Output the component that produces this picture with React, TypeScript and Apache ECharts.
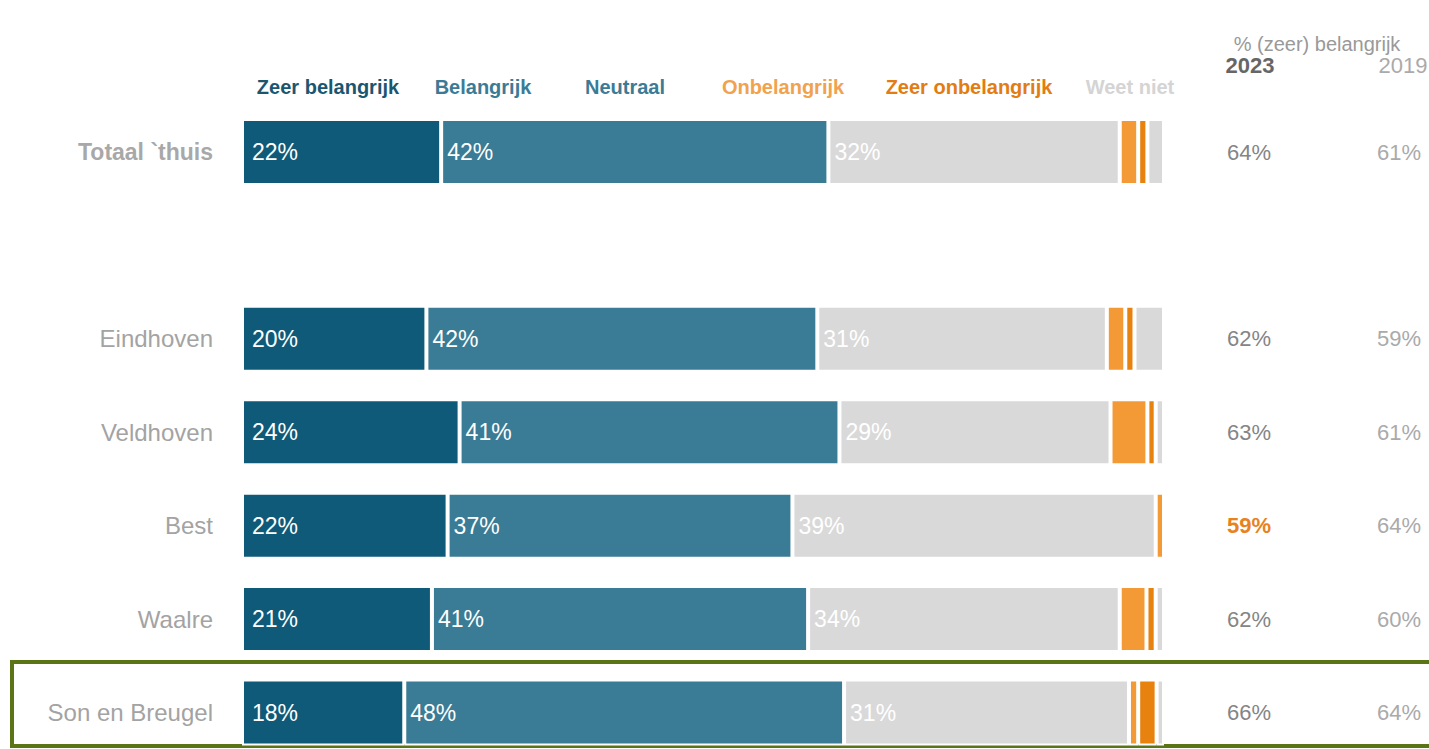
import React, { useEffect, useRef } from "react";
import * as echarts from "echarts";

const CATEGORIES = ["Totaal `thuis", "", "Eindhoven", "Veldhoven", "Best", "Waalre", "Son en Breugel"];
const SERIES_NAMES = ["Zeer belangrijk", "Belangrijk", "Neutraal", "Onbelangrijk", "Zeer onbelangrijk", "Weet niet"];
const ZEER_BELANGRIJK = [21.6, null, 20.0, 23.6, 22.3, 20.6, 17.6];
const BELANGRIJK = [42.0, null, 42.4, 41.2, 37.4, 40.8, 47.7];
const NEUTRAAL = [31.6, null, 31.4, 29.4, 39.4, 33.8, 30.9];
const ONBELANGRIJK = [2.0, null, 2.0, 4.0, 0.9, 2.9, 1.0];
const ZEER_ONBELANGRIJK = [1.0, null, 1.0, 0.9, null, 1.0, 2.0];
const WEET_NIET = [1.8, null, 3.2, 0.9, null, 0.9, 0.8];
const PCT_2023 = [64, null, 62, 63, 59, 62, 66];
const PCT_2019 = [61, null, 59, 61, 64, 60, 64];
const SIGNIFICANT_LOWER = [false, false, false, false, true, false, false];
const HEADER_TITLE = "% (zeer) belangrijk";
const HEADER_YEARS = ["2023", "2019"];

const SERIES_VALUES = [ZEER_BELANGRIJK, BELANGRIJK, NEUTRAAL, ONBELANGRIJK, ZEER_ONBELANGRIJK, WEET_NIET];
const BAR_COLORS = ["#0f5a78", "#3a7b95", "#d9d9d9", "#f39a37", "#e8820f", "#d9d9d9"];
const LEGEND_COLORS = ["#1b5670", "#3c7b96", "#3c7b96", "#f0a24e", "#e27c14", "#d4d4d4"];
const LEGEND_CENTERS = [328, 483, 625, 783, 969, 1130];

const FONT = "Arial, 'Liberation Sans', Helvetica, sans-serif";

export default function App() {
  const ref = useRef<HTMLDivElement>(null);

  useEffect(() => {
    if (!ref.current) return;
    const chart = echarts.init(ref.current, null, { renderer: "svg" });

    const series = SERIES_NAMES.map((name, i) => ({
      name,
      type: "bar",
      stack: "total",
      barWidth: 66,
      data: SERIES_VALUES[i],
      itemStyle: { color: BAR_COLORS[i], borderColor: "#ffffff", borderWidth: 2 },
      label: {
        show: i < 3,
        position: "insideLeft",
        distance: i === 0 ? 10 : 6,
        color: "#ffffff",
        fontSize: 23,
        fontFamily: FONT,
        formatter: (p: any) => (p.value == null ? "" : Math.round(p.value) + "%"),
      },
      emphasis: { disabled: true },
    }));

    const graphic: any[] = [];
    SERIES_NAMES.forEach((name, i) => {
      graphic.push({
        type: "text",
        x: LEGEND_CENTERS[i],
        y: 87,
        style: {
          text: name,
          fill: LEGEND_COLORS[i],
          font: `bold 20px ${FONT}`,
          align: "center",
          verticalAlign: "middle",
        },
      });
    });
    graphic.push({
      type: "text",
      x: 1317,
      y: 44,
      style: { text: HEADER_TITLE, fill: "#999999", font: `20px ${FONT}`, align: "center", verticalAlign: "middle" },
    });
    graphic.push({
      type: "text",
      x: 1250,
      y: 65,
      style: { text: HEADER_YEARS[0], fill: "#666666", font: `bold 22px ${FONT}`, align: "center", verticalAlign: "middle" },
    });
    graphic.push({
      type: "text",
      x: 1403,
      y: 65,
      style: { text: HEADER_YEARS[1], fill: "#aaaaaa", font: `22px ${FONT}`, align: "center", verticalAlign: "middle" },
    });
    graphic.push({
      type: "rect",
      shape: { x: 12, y: 662, width: 1430, height: 84 },
      style: { fill: "none", stroke: "#5b7516", lineWidth: 4 },
      silent: true,
    });

    chart.setOption({
      animation: false,
      grid: { left: 242, right: 265, top: 152, height: 560.5, containLabel: false },
      xAxis: { type: "value", min: 0, max: 100, show: false },
      yAxis: [
        {
          type: "category",
          data: CATEGORIES,
          inverse: true,
          boundaryGap: false,
          axisLine: { show: false },
          axisTick: { show: false },
          splitLine: { show: false },
          axisLabel: {
            margin: 29,
            fontSize: 24,
            color: "#a3a3a3",
            fontFamily: FONT,
            formatter: (v: string, idx: number) => (idx === 0 ? `{b|${v}}` : v),
            rich: { b: { fontSize: 23, fontWeight: "bold", color: "#a8a8a8", fontFamily: FONT } },
          },
        },
        {
          type: "category",
          data: CATEGORIES,
          inverse: true,
          boundaryGap: false,
          position: "right",
          axisLine: { show: false },
          axisTick: { show: false },
          splitLine: { show: false },
          axisLabel: {
            margin: 0,
            align: "left",
            formatter: (_v: string, idx: number) => {
              const a = PCT_2023[idx];
              const b = PCT_2019[idx];
              if (a == null || b == null) return "";
              const key = SIGNIFICANT_LOWER[idx] ? "hi" : "a";
              return `{${key}|${a}%}{b|${b}%}`;
            },
            rich: {
              a: { width: 170, align: "center", fontSize: 22, color: "#858585", fontFamily: FONT },
              hi: { width: 170, align: "center", fontSize: 22, color: "#e8821e", fontWeight: "bold", fontFamily: FONT },
              b: { width: 130, align: "center", fontSize: 22, color: "#aaaaaa", fontFamily: FONT },
            },
          },
        },
      ],
      series,
      graphic,
    });

    return () => chart.dispose();
  }, []);

  return (
    <div
      ref={ref}
      style={{ position: "fixed", left: 0, top: 0, width: 1429, height: 749, background: "#ffffff" }}
    />
  );
}
